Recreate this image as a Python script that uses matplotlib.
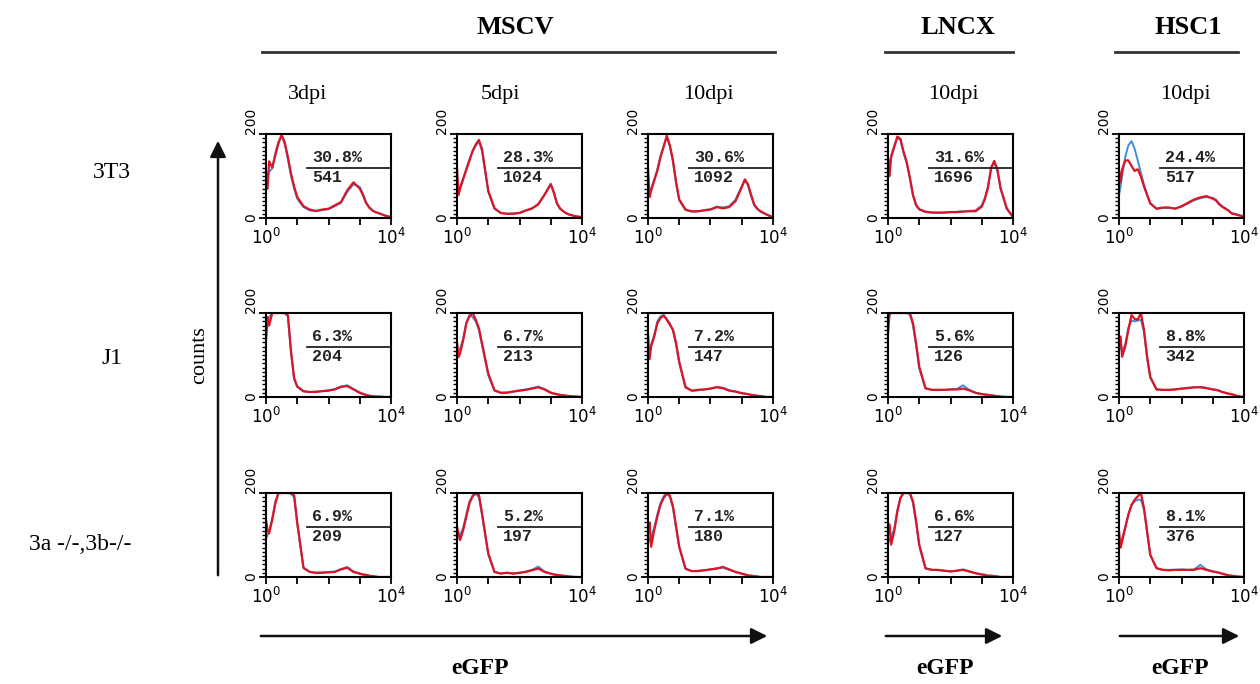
import numpy as np
import matplotlib.pyplot as plt
from matplotlib.patches import FancyArrowPatch
from matplotlib.lines import Line2D
from matplotlib.ticker import LogLocator, MultipleLocator, NullFormatter

# ---------------------------------------------------------------
# data (counts vs eGFP decade)
# ---------------------------------------------------------------
lg = [0, 0.05, 0.1, 0.2, 0.3, 0.4, 0.5, 0.6, 0.7, 0.8, 0.9, 1.0, 1.2, 1.4, 1.6,
      1.8, 2.0, 2.2, 2.4, 2.6, 2.8, 3.0, 3.1, 3.2, 3.3, 3.4, 3.5, 3.6, 3.8, 4.0]

row_labels = ["3T3", "J1", "3a -/-,3b-/-"]
col_labels = ["3dpi", "5dpi", "10dpi", "10dpi", "10dpi"]

# columns: MSCV 3dpi, MSCV 5dpi, MSCV 10dpi, LNCX 10dpi, HSC1 10dpi
red_3t3 = [
    [110, 70, 135, 120, 150, 178, 198, 180, 145, 106, 75, 50, 28, 20, 17, 20, 22, 30, 38, 66, 85, 70, 55, 36, 25, 18, 14, 12, 6, 2],
    [120, 55, 70, 93, 115, 137, 160, 175, 186, 164, 115, 65, 23, 12, 10, 10, 12, 18, 23, 32, 55, 80, 60, 34, 22, 16, 11, 8, 4, 2],
    [120, 50, 65, 89, 113, 145, 169, 196, 173, 137, 85, 44, 20, 16, 16, 18, 20, 26, 23, 26, 40, 73, 92, 80, 55, 32, 22, 16, 8, 2],
    [140, 100, 145, 169, 194, 188, 157, 133, 96, 55, 31, 21, 15, 13, 13, 13, 14, 14, 15, 16, 16, 27, 45, 72, 120, 136, 116, 72, 23, 2],
    [115, 85, 116, 137, 137, 124, 112, 116, 99, 75, 55, 35, 22, 25, 25, 22, 28, 36, 44, 49, 52, 46, 42, 33, 27, 22, 18, 11, 7, 3],
]
blue_3t3 = [
    [95, 100, 110, 118, 155, 182, 195, 176, 140, 100, 70, 46, 26, 18, 16, 19, 21, 28, 36, 62, 80, 74, 58, 38, 26, 19, 14, 11, 6, 2],
    [60, 62, 75, 95, 118, 140, 158, 172, 182, 160, 110, 62, 22, 12, 10, 11, 12, 17, 22, 34, 56, 82, 62, 35, 23, 16, 11, 8, 4, 2],
    [60, 55, 70, 92, 116, 148, 172, 192, 170, 133, 82, 42, 19, 15, 16, 19, 21, 27, 25, 28, 44, 76, 90, 78, 52, 30, 21, 15, 8, 2],
    [120, 130, 148, 172, 192, 185, 155, 130, 94, 53, 30, 20, 14, 13, 12, 13, 14, 15, 16, 17, 18, 30, 48, 76, 118, 132, 112, 70, 22, 2],
    [55, 75, 100, 145, 173, 183, 165, 137, 108, 79, 55, 35, 22, 24, 24, 23, 27, 34, 42, 47, 50, 48, 44, 35, 28, 24, 18, 12, 8, 4],
]

red_j1 = [
    [150, 190, 170, 200, 200, 200, 200, 200, 195, 110, 45, 25, 14, 12, 12, 14, 15, 18, 24, 26, 18, 10, 7, 5, 3, 2, 1, 1, 0, 0],
    [130, 95, 104, 136, 176, 192, 200, 184, 164, 128, 92, 56, 16, 10, 10, 13, 15, 17, 20, 23, 18, 10, 8, 7, 5, 4, 3, 2, 1, 0],
    [150, 90, 120, 144, 176, 188, 194, 184, 172, 160, 128, 84, 24, 15, 17, 18, 20, 23, 21, 15, 13, 9, 8, 7, 5, 4, 3, 2, 0, 0],
    [150, 200, 200, 200, 200, 200, 200, 200, 200, 176, 128, 72, 21, 17, 17, 17, 18, 18, 20, 16, 10, 7, 6, 5, 4, 3, 2, 1, 0, 0],
    [120, 144, 96, 120, 160, 195, 186, 184, 200, 160, 96, 48, 18, 17, 17, 18, 20, 21, 23, 23, 21, 18, 17, 15, 12, 10, 8, 7, 2, 0],
]
blue_j1 = [
    [130, 170, 190, 200, 200, 200, 200, 200, 192, 105, 42, 24, 13, 12, 13, 14, 16, 19, 25, 28, 19, 11, 8, 5, 3, 2, 1, 1, 0, 0],
    [100, 110, 115, 140, 178, 195, 190, 180, 160, 124, 88, 52, 15, 10, 11, 13, 16, 18, 21, 25, 19, 11, 8, 6, 5, 4, 3, 2, 1, 0],
    [100, 105, 125, 148, 180, 192, 196, 186, 176, 158, 124, 80, 22, 15, 16, 18, 20, 24, 22, 16, 13, 9, 8, 7, 5, 4, 3, 2, 0, 0],
    [170, 195, 200, 200, 200, 200, 200, 200, 196, 170, 122, 68, 20, 17, 17, 17, 18, 19, 28, 17, 10, 7, 6, 5, 4, 3, 2, 1, 0, 0],
    [110, 120, 110, 125, 165, 182, 180, 182, 184, 155, 92, 46, 18, 17, 17, 18, 20, 22, 23, 24, 22, 18, 17, 15, 12, 10, 8, 6, 2, 0],
]

red_3a3b = [
    [136, 112, 104, 136, 176, 200, 200, 200, 200, 200, 195, 130, 22, 12, 10, 10, 11, 12, 18, 22, 12, 8, 6, 5, 3, 2, 1, 0, 0, 0],
    [120, 104, 88, 112, 144, 176, 192, 200, 196, 152, 104, 56, 12, 8, 10, 8, 10, 12, 16, 20, 12, 8, 6, 5, 4, 3, 2, 1, 0, 0],
    [110, 130, 72, 112, 144, 172, 188, 198, 194, 168, 120, 72, 20, 14, 14, 16, 18, 20, 24, 18, 12, 8, 6, 4, 3, 2, 1, 0, 0, 0],
    [100, 125, 77, 109, 156, 188, 200, 200, 200, 180, 133, 77, 21, 17, 17, 15, 13, 15, 17, 13, 9, 6, 5, 3, 3, 2, 1, 0, 0, 0],
    [110, 70, 85, 117, 148, 172, 184, 192, 200, 164, 109, 53, 21, 17, 16, 17, 17, 17, 17, 21, 17, 13, 12, 10, 8, 6, 4, 3, 1, 0],
]
blue_3a3b = [
    [90, 100, 110, 140, 180, 200, 200, 200, 200, 198, 190, 126, 21, 12, 10, 11, 12, 13, 19, 24, 13, 8, 6, 5, 3, 2, 1, 0, 0, 0],
    [90, 95, 100, 118, 150, 180, 194, 198, 190, 148, 100, 54, 12, 9, 10, 9, 10, 13, 17, 25, 13, 8, 6, 5, 4, 3, 2, 1, 0, 0],
    [80, 90, 95, 118, 150, 176, 192, 200, 190, 164, 116, 70, 19, 14, 15, 16, 18, 21, 22, 17, 12, 8, 6, 4, 3, 2, 1, 0, 0, 0],
    [80, 90, 95, 115, 160, 190, 200, 200, 198, 176, 128, 74, 20, 17, 16, 15, 14, 15, 18, 14, 9, 6, 5, 3, 3, 2, 1, 0, 0, 0],
    [80, 85, 92, 120, 150, 170, 180, 184, 184, 160, 106, 52, 21, 17, 17, 17, 18, 17, 18, 29, 18, 13, 12, 10, 8, 6, 4, 3, 1, 0],
]

pct_3t3 = ["30.8%", "28.3%", "30.6%", "31.6%", "24.4%"]
pct_j1 = ["6.3%", "6.7%", "7.2%", "5.6%", "8.8%"]
pct_3a3b = ["6.9%", "5.2%", "7.1%", "6.6%", "8.1%"]
mfi_3t3 = ["541", "1024", "1092", "1696", "517"]
mfi_j1 = ["204", "213", "147", "126", "342"]
mfi_3a3b = ["209", "197", "180", "127", "376"]

red_rows = [red_3t3, red_j1, red_3a3b]
blue_rows = [blue_3t3, blue_j1, blue_3a3b]
pct_rows = [pct_3t3, pct_j1, pct_3a3b]
mfi_rows = [mfi_3t3, mfi_j1, mfi_3a3b]

# ---------------------------------------------------------------
# layout (pixel positions of the original figure)
# ---------------------------------------------------------------
W, H = 1260, 684
col_left = [266, 457, 648, 888, 1119]
row_top = [134, 313, 493]
pw, ph = 125, 84

RED = "#dc1423"
BLUE = "#3f8fd8"
SERIF = "Liberation Serif"

fig = plt.figure(figsize=(W / 100, H / 100), dpi=100)


def fx(px):
    return px / W


def fy(py):
    return 1 - py / H


x = 10 ** np.array(lg)

for r in range(3):
    for c in range(5):
        ax = fig.add_axes([fx(col_left[c]), fy(row_top[r] + ph), pw / W, ph / H])
        ax.plot(x, blue_rows[r][c], color=BLUE, lw=1.4)
        ax.plot(x, red_rows[r][c], color=RED, lw=1.6)
        ax.set_xscale("log")
        ax.set_xlim(1, 1e4)
        ax.set_ylim(0, 200)

        ax.set_xticks([1, 10, 100, 1000, 1e4])
        ax.set_xticklabels([r"$10^0$", "", "", "", r"$10^4$"])
        ax.xaxis.set_minor_locator(LogLocator(base=10, subs=range(2, 10)))
        ax.xaxis.set_minor_formatter(NullFormatter())
        ax.set_yticks([0, 200])
        ax.set_yticklabels(["0", "200"], rotation=90)
        ax.yaxis.set_minor_locator(MultipleLocator(10))
        ax.tick_params(which="major", direction="out", length=5, width=1.3,
                       labelsize=12, pad=2)
        ax.tick_params(which="minor", direction="out", length=3, width=1.0)
        ax.tick_params(axis="y", labelsize=10, pad=1)
        lbls = ax.get_yticklabels()
        lbls[0].set_va("center")
        lbls[1].set_va("bottom")
        for s in ax.spines.values():
            s.set_linewidth(1.5)

        # gate marker with % positive and mean fluorescence
        ax.plot([0.33, 1.0], [0.6, 0.6], transform=ax.transAxes,
                color="#222222", lw=1.3, clip_on=False)
        ax.text(0.37, 0.63, pct_rows[r][c], transform=ax.transAxes,
                family="Liberation Mono", weight="bold", size=12,
                color="#222222", va="bottom", ha="left")
        ax.text(0.37, 0.575, mfi_rows[r][c], transform=ax.transAxes,
                family="Liberation Mono", weight="bold", size=12,
                color="#222222", va="top", ha="left")

# headers
headers = [("MSCV", 515, 262, 775), ("LNCX", 958, 885, 1013), ("HSC1", 1188, 1115, 1238)]
for name, cx, x0, x1 in headers:
    fig.text(fx(cx), fy(28), name, family=SERIF, weight="bold", size=19,
             ha="center", va="center")
    fig.add_artist(Line2D([fx(x0), fx(x1)], [fy(52), fy(52)], color="#333333", lw=2))

sub_x = [308, 500, 708, 953, 1185]
for lab, cx in zip(col_labels, sub_x):
    fig.text(fx(cx), fy(95), lab, family=SERIF, size=16, ha="center", va="center")

row_y = [172, 358, 545]
row_x = [112, 112, 80]
for lab, cx, cy in zip(row_labels, row_x, row_y):
    fig.text(fx(cx), fy(cy), lab, family=SERIF, size=17, ha="center", va="center")

# counts arrow
fig.add_artist(FancyArrowPatch((fx(218), fy(578)), (fx(218), fy(138)),
                               transform=fig.transFigure, arrowstyle="-|>",
                               mutation_scale=24, lw=1.8, color="#111111"))
fig.text(fx(200), fy(355), "counts", family=SERIF, size=16, rotation=90,
         ha="center", va="center")

# eGFP arrows
arrows = [(258, 770, 480), (883, 1005, 945), (1117, 1242, 1180)]
for x0, x1, lx in arrows:
    fig.add_artist(FancyArrowPatch((fx(x0), fy(636)), (fx(x1), fy(636)),
                                   transform=fig.transFigure, arrowstyle="-|>",
                                   mutation_scale=24, lw=1.8, color="#111111"))
    fig.text(fx(lx), fy(668), "eGFP", family=SERIF, weight="bold", size=17,
             ha="center", va="center")

fig.savefig("out.png", dpi=100)
